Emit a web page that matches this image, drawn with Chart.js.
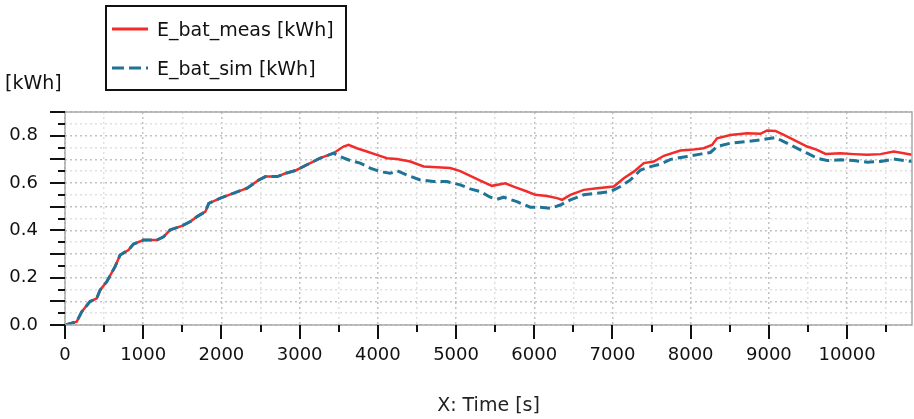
<!DOCTYPE html>
<html>
<head>
<meta charset="utf-8">
<script src="https://cdn.jsdelivr.net/npm/chart.js@4.4.1/dist/chart.umd.min.js"></script>
<style>
    html, body { margin: 0; padding: 0; background: #fff; }
    #wrap { position: relative; width: 914px; height: 419px; font-family: "DejaVu Sans", sans-serif; color: #111; }
    #chart { position: absolute; left: 0; top: 0; }
    .legend { position: absolute; left: 105px; top: 5px; width: 238px; height: 82px; border: 2px solid #111; }
    .legend .row { position: absolute; left: 5px; height: 24px; display: flex; align-items: center; font-size: 19px; white-space: nowrap; }
    .legend svg { margin-right: 9px; }
    .unit { position: absolute; left: 5px; top: 71px; font-size: 19px; }
</style>
</head>
<body>
<div id="wrap">
    <canvas id="chart" width="914" height="419"></canvas>
    <div class="legend">
        <div class="row" style="top: 10px;">
            <svg width="36" height="6"><line x1="0" y1="3" x2="36" y2="3" stroke="#f22b2b" stroke-width="3"/></svg>E_bat_meas [kWh]
        </div>
        <div class="row" style="top: 49px;">
            <svg width="36" height="6"><line x1="0" y1="3" x2="36" y2="3" stroke="#1f7396" stroke-width="3" stroke-dasharray="12 5"/></svg>E_bat_sim [kWh]
        </div>
    </div>
    <div class="unit">[kWh]</div>
</div>
<script>
// Measured battery energy (red, solid)
const measTime = [0, 150, 214, 320, 406, 449, 534, 641, 705, 812, 876, 1004, 1175, 1261, 1346, 1496, 1603, 1688, 1795, 1838,
    1987, 2158, 2329, 2479, 2564, 2714, 2821, 2949, 3092, 3262, 3433, 3561, 3625, 3732, 3860, 3988, 4116, 4244, 4414, 4585,
    4755, 4926, 5054, 5182, 5310, 5459, 5630, 5736, 5907, 6014, 6163, 6291, 6355, 6462, 6633, 6803, 7017, 7145, 7273, 7401,
    7529, 7657, 7868, 7996, 8166, 8273, 8337, 8508, 8721, 8892, 8977, 9084, 9191, 9319, 9489, 9617, 9724, 9916, 10086, 10257,
    10427, 10597, 10725, 10830];
const measEnergy = [0, 0.014, 0.056, 0.099, 0.113, 0.148, 0.183, 0.247, 0.296, 0.317, 0.342, 0.359, 0.359, 0.373, 0.402, 0.419, 0.437, 0.458, 0.479, 0.514,
    0.536, 0.557, 0.578, 0.613, 0.627, 0.627, 0.641, 0.653, 0.677, 0.705, 0.726, 0.754, 0.761, 0.747, 0.733, 0.719, 0.705, 0.701, 0.691, 0.670,
    0.667, 0.663, 0.650, 0.630, 0.610, 0.588, 0.599, 0.585, 0.564, 0.550, 0.545, 0.536, 0.529, 0.550, 0.571, 0.578, 0.585, 0.620, 0.648, 0.684,
    0.691, 0.715, 0.737, 0.740, 0.747, 0.761, 0.789, 0.803, 0.810, 0.808, 0.822, 0.820, 0.803, 0.782, 0.754, 0.740, 0.723, 0.726, 0.722, 0.719,
    0.722, 0.733, 0.726, 0.719];

// Simulated battery energy (teal, dashed)
const simTime = [0, 150, 214, 320, 406, 449, 534, 641, 705, 812, 876, 1004, 1175, 1261, 1346, 1496, 1603, 1688, 1795, 1838,
    1987, 2158, 2329, 2479, 2564, 2714, 2821, 2949, 3092, 3262, 3433, 3518, 3646, 3774, 3902, 4030, 4158, 4244, 4372, 4542,
    4713, 4883, 5054, 5182, 5310, 5437, 5523, 5608, 5779, 5949, 6077, 6205, 6333, 6462, 6633, 6803, 6974, 7102, 7230, 7359,
    7487, 7615, 7743, 7953, 8124, 8252, 8337, 8508, 8721, 8892, 9084, 9191, 9319, 9489, 9617, 9745, 9916, 10086, 10257, 10427,
    10597, 10830];
const simEnergy = [0, 0.014, 0.056, 0.099, 0.113, 0.148, 0.183, 0.247, 0.296, 0.317, 0.342, 0.359, 0.359, 0.373, 0.402, 0.419, 0.437, 0.458, 0.479, 0.514,
    0.536, 0.557, 0.578, 0.613, 0.627, 0.627, 0.641, 0.653, 0.677, 0.705, 0.726, 0.712, 0.695, 0.684, 0.663, 0.648, 0.641, 0.652, 0.634, 0.613,
    0.606, 0.606, 0.592, 0.575, 0.564, 0.540, 0.531, 0.540, 0.521, 0.498, 0.498, 0.493, 0.507, 0.529, 0.550, 0.557, 0.564, 0.585, 0.613, 0.655,
    0.669, 0.680, 0.700, 0.712, 0.722, 0.729, 0.754, 0.768, 0.775, 0.782, 0.792, 0.775, 0.754, 0.726, 0.705, 0.695, 0.698, 0.695, 0.688, 0.691,
    0.701, 0.691];

const xMin = 0, xMax = 10830, xStep = 500, xLabelStep = 1000;
const yMin = 0, yMax = 0.9, yStep = 0.05, yLabelStep = 0.2;

const isMultiple = (v, step) => Math.abs(v / step - Math.round(v / step)) < 1e-6;

// Black tick marks (long on major, short on minor) + grey frame around the plot
const axisMarks = {
    id: 'axisMarks',
    afterDraw(chart) {
        const { ctx, chartArea: a, scales: { x, y } } = chart;
        ctx.save();
        ctx.strokeStyle = '#a9a9a9';
        ctx.lineWidth = 1.5;
        ctx.strokeRect(a.left, a.top, a.right - a.left, a.bottom - a.top);

        ctx.strokeStyle = '#111';
        ctx.lineWidth = 2;
        ctx.beginPath();
        y.ticks.forEach(t => {
            const py = Math.round(y.getPixelForValue(t.value));
            const len = isMultiple(t.value, 0.1) ? 15 : 7;
            ctx.moveTo(a.left - len, py);
            ctx.lineTo(a.left, py);
        });
        x.ticks.forEach(t => {
            const px = Math.round(x.getPixelForValue(t.value));
            const len = isMultiple(t.value, 1000) ? 14 : 7;
            ctx.moveTo(px, a.bottom);
            ctx.lineTo(px, a.bottom + len);
        });
        ctx.stroke();
        ctx.restore();
    }
};

const gridColor = ctx => {
    const step = ctx.scale.axis === 'x' ? 1000 : 0.1;
    return isMultiple(ctx.tick.value, step) ? '#c2c2c2' : '#e0e0e0';
};

new Chart(document.getElementById('chart'), {
    type: 'line',
    data: {
        datasets: [
            {
                label: 'E_bat_meas [kWh]',
                data: measTime.map((t, i) => ({ x: t, y: measEnergy[i] })),
                borderColor: '#f22b2b',
                borderWidth: 2.5,
                pointRadius: 0,
                order: 2
            },
            {
                label: 'E_bat_sim [kWh]',
                data: simTime.map((t, i) => ({ x: t, y: simEnergy[i] })),
                borderColor: '#1f7396',
                borderWidth: 3,
                borderDash: [10, 5],
                pointRadius: 0,
                order: 1
            }
        ]
    },
    options: {
        responsive: false,
        animation: false,
        layout: { padding: { top: 112, right: 2, left: 0, bottom: 0 } },
        plugins: {
            legend: { display: false },
            tooltip: { enabled: false }
        },
        scales: {
            x: {
                type: 'linear',
                min: xMin,
                max: xMax,
                border: { display: false, dash: [2, 3] },
                grid: { color: gridColor, lineWidth: 1.5, drawTicks: false },
                ticks: {
                    autoSkip: false,
                    maxRotation: 0,
                    padding: 20,
                    color: '#111',
                    font: { family: 'DejaVu Sans', size: 18 },
                    callback: v => isMultiple(v, xLabelStep) ? String(v) : ''
                },
                // fixed 500 s steps that do not get stretched to fit the odd max
                afterBuildTicks: s => {
                    const ticks = [];
                    for (let v = xMin; v <= xMax; v += xStep) ticks.push({ value: v });
                    s.ticks = ticks;
                },
                title: {
                    display: true,
                    text: 'X: Time [s]',
                    color: '#222',
                    padding: { top: 0, bottom: 2 },
                    font: { family: 'DejaVu Sans', size: 19 }
                },
                afterFit: s => { s.height = 94; }
            },
            y: {
                min: yMin,
                max: yMax,
                border: { display: false, dash: [2, 3] },
                grid: { color: gridColor, lineWidth: 1.5, drawTicks: false },
                ticks: {
                    stepSize: yStep,
                    autoSkip: false,
                    padding: 27,
                    color: '#111',
                    font: { family: 'DejaVu Sans', size: 18 },
                    callback: v => isMultiple(v, yLabelStep) ? v.toFixed(1) : ''
                },
                afterFit: s => { s.width = 65; }
            }
        }
    },
    plugins: [axisMarks]
});
</script>
</body>
</html>
